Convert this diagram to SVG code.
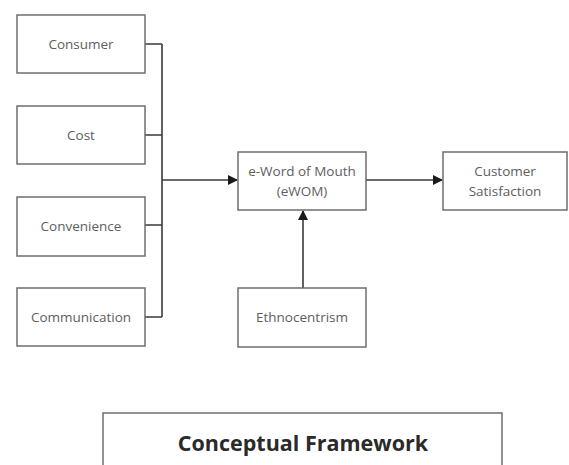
<svg xmlns="http://www.w3.org/2000/svg" width="569" height="465" viewBox="0 0 569 465">
<style>
.box{fill:#fff;stroke:#6e6e6e;stroke-width:1.5}
.t{font-family:"Open Sans","Noto Sans",sans-serif;font-size:13.5px;fill:#5e5e5e;text-anchor:middle}
.c{fill:none;stroke:#3a3a3a;stroke-width:1.6}
.ttl{font-family:"Open Sans","Noto Sans",sans-serif;font-size:21.5px;font-weight:bold;fill:#2a2a2a;text-anchor:middle}
</style>
<defs>
<marker id="ah" markerWidth="10" markerHeight="10" refX="9" refY="5" orient="auto" markerUnits="userSpaceOnUse">
<path d="M0,0 L10,5 L0,10 z" fill="#1a1a1a"/>
</marker>
</defs>
<rect width="569" height="465" fill="#fff"/>
<g id="connectors">
<path class="c" d="M145,44 H162 M145,135 H162 M145,225 H162 M145,317 H162 M162,44 V317"/>
<path class="c" d="M162,180 H237" stroke-width="2.2" marker-end="url(#ah)"/>
<path class="c" d="M366,180 H442" marker-end="url(#ah)"/>
<path class="c" d="M303,288 V211" stroke="#555" stroke-width="2" marker-end="url(#ah)"/>
</g>
<g id="consumer"><rect class="box" x="17" y="15" width="128" height="58"/><text class="t" x="81" y="49">Consumer</text></g>
<g id="cost"><rect class="box" x="17" y="106" width="128" height="58"/><text class="t" x="81" y="140">Cost</text></g>
<g id="convenience"><rect class="box" x="17" y="197" width="128" height="59"/><text class="t" x="81" y="231">Convenience</text></g>
<g id="communication"><rect class="box" x="17" y="288" width="128" height="58"/><text class="t" x="81" y="322">Communication</text></g>
<g id="ewom"><rect class="box" x="238" y="152" width="128" height="58"/><text class="t" x="302" y="176">e-Word of Mouth</text><text class="t" x="302" y="196">(eWOM)</text></g>
<g id="ethnocentrism"><rect class="box" x="238" y="288" width="128" height="59"/><text class="t" x="302" y="322">Ethnocentrism</text></g>
<g id="satisfaction"><rect class="box" x="443" y="152" width="124" height="58"/><text class="t" x="505" y="176">Customer</text><text class="t" x="505" y="196">Satisfaction</text></g>
<g id="title"><rect class="box" x="103" y="413" width="399" height="60"/><text class="ttl" x="303" y="451">Conceptual Framework</text></g>
</svg>
